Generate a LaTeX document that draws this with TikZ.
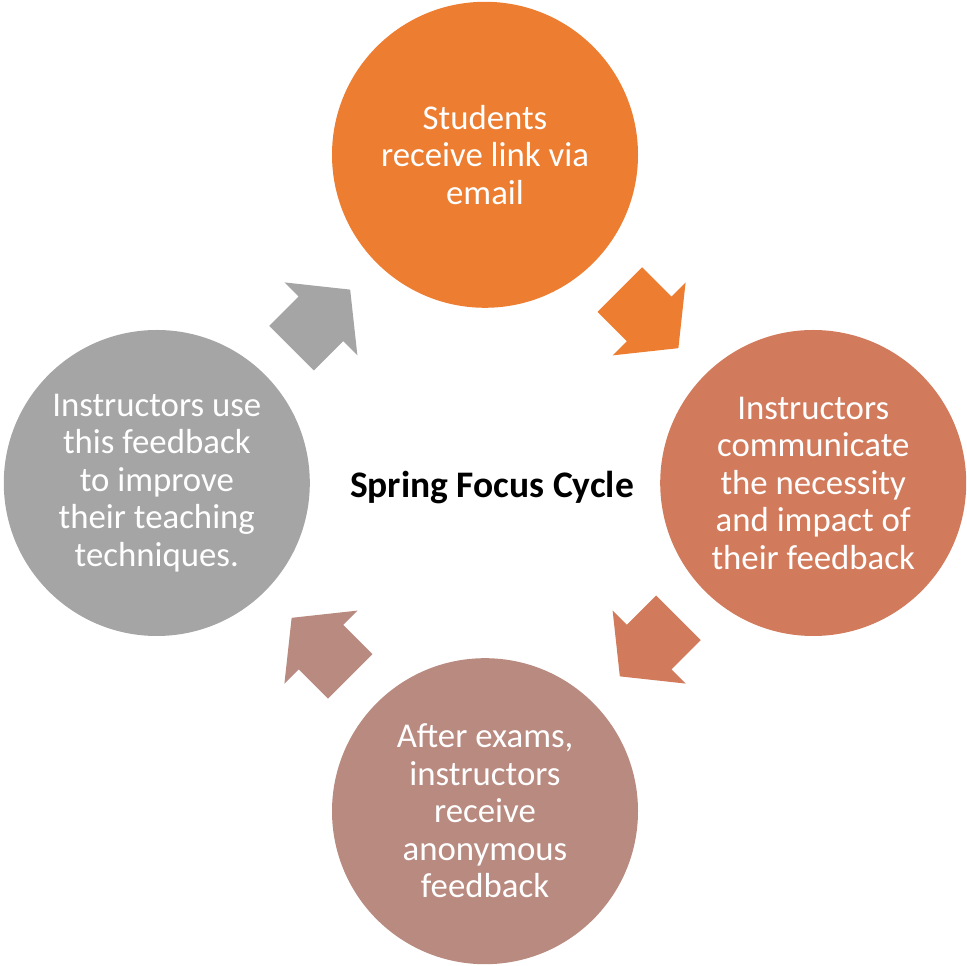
\documentclass[tikz,border=0pt]{standalone}
\usepackage{fontspec}
\setmainfont{Carlito}
\usetikzlibrary{positioning,calc}

\definecolor{stepOrange}{HTML}{ED7D31}
\definecolor{stepRust}{HTML}{D27B5C}
\definecolor{stepMauve}{HTML}{B98A80}
\definecolor{stepGrey}{HTML}{A5A5A5}

\tikzset{
    stepdisc/.style={circle, fill=#1, minimum size=306pt, inner sep=0pt,
        text=white, align=center, font=\fontsize{34.8}{37.5}\selectfont},
    cyclearrow/.style={fill=#1},
}

% block arrow, centred halfway between two discs
\newcommand{\cyclearrowbetween}[4]{%
    \begin{scope}[shift={($(#1)!0.5!(#2)$)}, rotate=#3]
        \fill[cyclearrow=#4] (-41.4,31.5) -- (0,31.5) -- (0,51.6) -- (41.4,0)
            -- (0,-51.6) -- (0,-31.5) -- (-41.4,-31.5) -- cycle;
    \end{scope}}

\begin{document}
\begin{tikzpicture}[x=1pt, y=1pt, node distance=175pt]
    \useasboundingbox (0,0) rectangle (966,966);

    \coordinate (hub) at (485,483);

    % the four discs
    \node[stepdisc=stepOrange] (students) [above=of hub] {Students\\receive link via\\email};
    \node[stepdisc=stepRust] (communicate) [right=of hub] {Instructors\\communicate\\the necessity\\and impact of\\their feedback};
    \node[stepdisc=stepMauve] (exams) [below=of hub] {After exams,\\instructors\\receive\\anonymous\\feedback};
    \node[stepdisc=stepGrey] (improve) [left=of hub] {Instructors use\\this feedback\\to improve\\their teaching\\techniques.};

    % title
    \node[font=\fontsize{37.5}{40}\selectfont\bfseries] (title) at ($(hub)+(7,-5)$) {Spring Focus Cycle};

    % arrows
    \cyclearrowbetween{students}{communicate}{-45}{stepOrange}
    \cyclearrowbetween{communicate}{exams}{-135}{stepRust}
    \cyclearrowbetween{exams}{improve}{135}{stepMauve}
    \cyclearrowbetween{improve}{students}{45}{stepGrey}
\end{tikzpicture}
\end{document}
